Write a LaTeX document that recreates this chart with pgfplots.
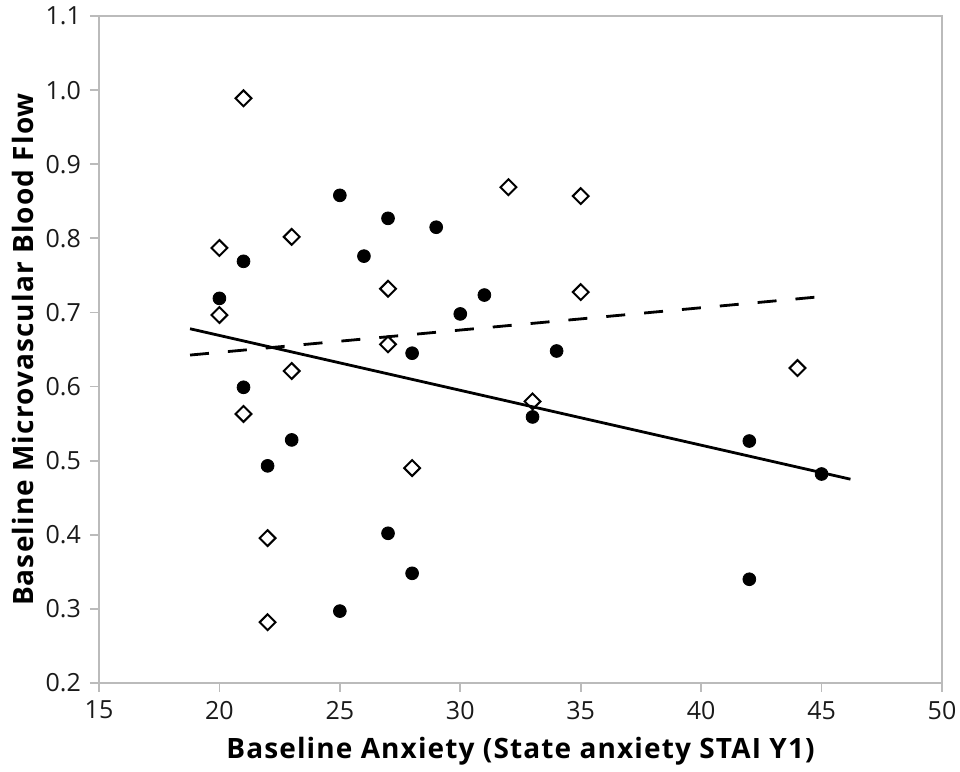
\documentclass[border=0pt]{standalone}
\usepackage{pgfplots}
\pgfplotsset{compat=1.18}
\usepackage{fontspec}
\setmainfont{Open Sans}
\newfontfamily\labfont[LetterSpace=4]{Open Sans}
\definecolor{axgray}{HTML}{BBBBBB}
\definecolor{ticktext}{HTML}{1A1A1A}
\begin{document}
\begin{tikzpicture}
\path[use as bounding box] (-49.5pt,-44.5pt) rectangle (430.5pt,341.5pt);
\begin{axis}[
  at={(0,0)}, anchor=origin,
  scale only axis,
  width=421.5pt, height=333.5pt,
  xmin=15, xmax=50, ymin=0.2, ymax=1.1,
  xtick={15,20,...,50},
  ytick={0.2,0.3,...,1.1},
  yticklabel style={/pgf/number format/fixed, /pgf/number format/fixed zerofill, /pgf/number format/precision=1},
  /pgf/number format/assume math mode=true,
  tick label style={font=\fontsize{12.5}{14}\selectfont, text=ticktext},
  axis line style={axgray, line width=0.9pt},
  tick style={axgray, line width=0.9pt},
  tick align=outside, major tick length=4.5pt,
  xtick pos=bottom, ytick pos=left,
  xticklabel style={yshift=-1pt},
  yticklabel style={xshift=-1pt},
  xlabel={Baseline Anxiety (State anxiety STAI Y1)},
  ylabel={Baseline Microvascular Blood Flow},
  label style={font=\labfont\fontsize{14}{16}\selectfont\bfseries},
  xlabel style={yshift=-2pt},
  ylabel style={yshift=-1pt},
  clip=false,
]
% filled circles
\addplot[only marks, mark=*, mark size=3.2pt, black] coordinates {
(20,0.719) (21,0.769) (21,0.599) (22,0.493) (23,0.528) (25,0.858) (25,0.297)
(26,0.776) (27,0.827) (27,0.402) (28,0.645) (28,0.348) (29,0.815) (30,0.698)
(31,0.7235) (33,0.559) (34,0.648) (42,0.5265) (42,0.340) (45,0.482)
};
% open diamonds
\addplot[only marks, mark=square, mark size=2.8pt, mark options={rotate=45, fill=white, draw=black, line width=1pt}] coordinates {
(21,0.989) (20,0.787) (20,0.6965) (21,0.563) (23,0.802) (23,0.621) (22,0.3955)
(22,0.282) (27,0.732) (27,0.657) (28,0.490) (32,0.869) (33,0.580) (35,0.857)
(35,0.7275) (44,0.625)
};
% fitted lines
\addplot[black, line width=1.4pt] coordinates {(18.78,0.678) (46.2,0.475)};
\addplot[black, line width=1.4pt, dash pattern=on 9.5pt off 9.5pt] coordinates {(18.78,0.6425) (45.2,0.722)};
\end{axis}
\end{tikzpicture}
\end{document}
